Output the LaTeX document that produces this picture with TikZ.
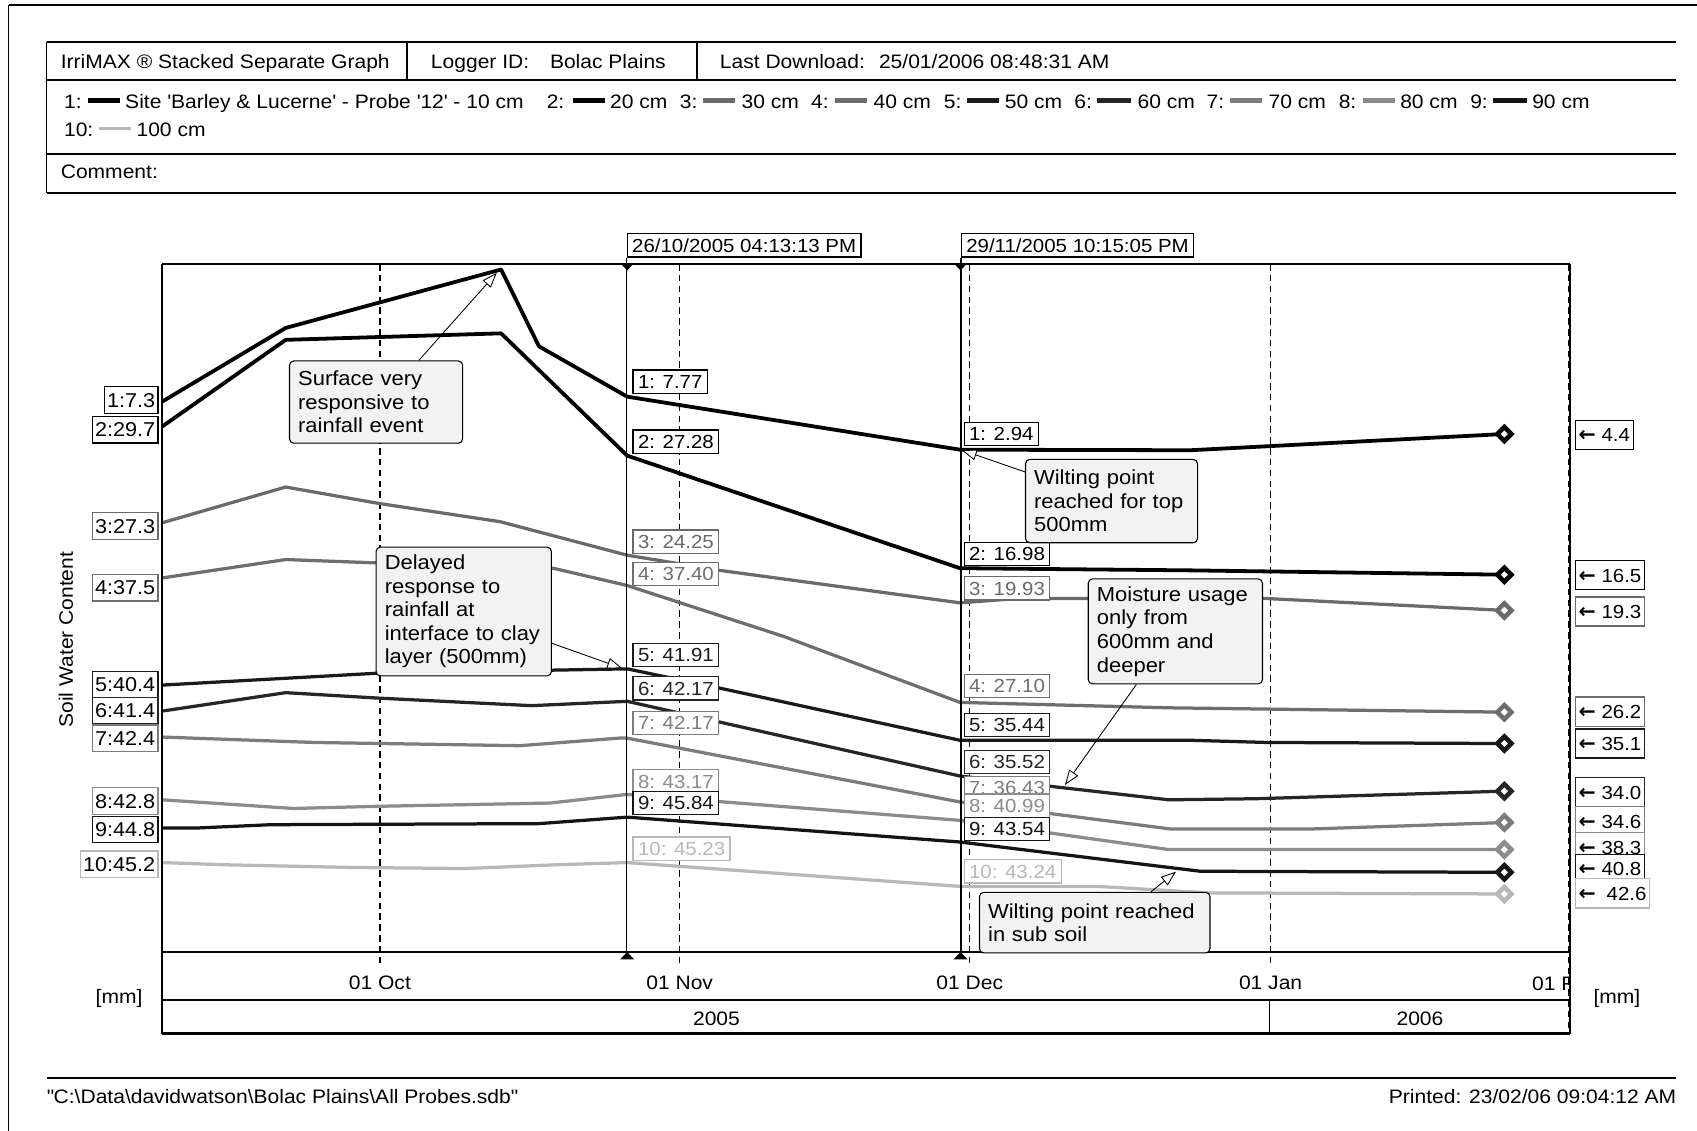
\documentclass[tikz,border=0pt]{standalone}
\usepackage{fontspec}
\setmainfont[FakeStretch=1.08]{Liberation Sans}
\newfontfamily\arrfont{DejaVu Sans}
\usetikzlibrary{arrows.meta}
\definecolor{c1}{HTML}{000000}
\definecolor{c2}{HTML}{000000}
\definecolor{c3}{HTML}{6A6A6A}
\definecolor{c4}{HTML}{6E6E6E}
\definecolor{c5}{HTML}{1A1A1A}
\definecolor{c6}{HTML}{262626}
\definecolor{c7}{HTML}{7C7C7C}
\definecolor{c8}{HTML}{8C8C8C}
\definecolor{c9}{HTML}{141414}
\definecolor{c10}{HTML}{B8B8B8}
\definecolor{callfill}{HTML}{F2F2F2}
\newcommand\fhead{\fontsize{18}{20}\selectfont}
\newcommand\flab{\fontsize{17.5}{19}\selectfont}
\newcommand\fleft{\fontsize{18.5}{20}\selectfont}
\newcommand\fright{\fontsize{17.5}{19}\selectfont}
\newcommand\fcall{\fontsize{18.8}{21.8}\selectfont}
\newcommand\larr{{\arrfont\bfseries\fontsize{19}{19}\selectfont ←}}
\begin{document}
\begin{tikzpicture}[x=1pt,y=-1pt,
  every node/.style={inner sep=0pt},
  txt/.style={anchor=base west, font=\fhead},
  clab/.style={draw, fill=white, line width=1.2pt, inner xsep=4.5pt, inner ysep=0pt,
    minimum height=21.5pt, text height=12.6pt, text depth=0pt, font=\flab, anchor=west},
  llab/.style={draw, fill=white, line width=1.2pt, inner xsep=2.5pt, inner ysep=0pt,
    minimum height=24.5pt, text height=13.3pt, text depth=0pt, font=\fleft, anchor=east},
  rlab/.style={draw, fill=white, line width=1.2pt, inner xsep=3pt, inner ysep=0pt,
    minimum height=27pt, text height=12.6pt, text depth=0pt, font=\fright, anchor=west},
  callout/.style={draw, fill=callfill, rounded corners=4pt, line width=1pt, align=left,
    inner xsep=8pt, inner ysep=0pt, font=\fcall, anchor=north west},
  callarrow/.style={line width=0.8pt, -{Triangle[length=14pt,width=10pt,fill=white]}},
  ser/.style={line width=3pt, line join=round},
  gridline/.style={line width=1.2pt, dash pattern=on 6pt off 4pt},
  frame/.style={line width=1.6pt},
  swatch/.style={line width=4.5pt}
]
\useasboundingbox (0,0) rectangle (1568,1045);

% page border
\draw[line width=1.5pt] (8,4.6) -- (1568,4.6);
\draw[line width=1.5pt] (8,4.6) -- (8,1045);

% header table
\draw[frame] (43,38.5) -- (1549,38.5);
\draw[frame] (43,74) -- (1549,74);
\draw[frame] (43,142.3) -- (1549,142.3);
\draw[frame] (43,178.6) -- (1549,178.6);
\draw[frame] (43,38.5) -- (43,178.6);
\draw[frame] (376,38.5) -- (376,74);
\draw[frame] (644,38.5) -- (644,74);
\node[txt] (h1) at (56,63.5) {IrriMAX ® Stacked Separate Graph};
\node[txt] (h2) at (398,63.5) {Logger ID:};
\node[txt] (h3) at (508,63.5) {Bolac Plains};
\node[txt] (h4) at (665,63.5) {Last Download:};
\node[txt] (h5) at (812,63.5) {25/01/2006 08:48:31 AM};
\node[txt] (h6) at (56,165) {Comment:};

% legend
\node[txt] (g1) at (59,100.5) {1:};
\draw[swatch,c1] (81,93) -- (111,93);
\node[txt] (g1t) at (115.5,100.5) {Site \textquotesingle Barley \& Lucerne\textquotesingle{} - Probe \textquotesingle 12\textquotesingle{} - 10 cm};
\node[txt] (g2) at (505,100.5) {2:};
\draw[swatch,c2] (529,93) -- (558.6,93);
\node[txt] (g2t) at (563.6,100.5) {20 cm};
\node[txt] (g3) at (628,100.5) {3:};
\draw[swatch,c3] (649.4,93) -- (679.1,93);
\node[txt] (g3t) at (685,100.5) {30 cm};
\node[txt] (g4) at (749.3,100.5) {4:};
\draw[swatch,c4] (771.5,93) -- (801.2,93);
\node[txt] (g4t) at (807,100.5) {40 cm};
\node[txt] (g5) at (872,100.5) {5:};
\draw[swatch,c5] (893.6,93) -- (923.3,93);
\node[txt] (g5t) at (928.3,100.5) {50 cm};
\node[txt] (g6) at (992.6,100.5) {6:};
\draw[swatch,c6] (1014,93) -- (1045.4,93);
\node[txt] (g6t) at (1051,100.5) {60 cm};
\node[txt] (g7) at (1114.7,100.5) {7:};
\draw[swatch,c7] (1136.8,93) -- (1166.5,93);
\node[txt] (g7t) at (1172,100.5) {70 cm};
\node[txt] (g8) at (1236.8,100.5) {8:};
\draw[swatch,c8] (1259,93) -- (1288.6,93);
\node[txt] (g8t) at (1293.6,100.5) {80 cm};
\node[txt] (g9) at (1358.3,100.5) {9:};
\draw[swatch,c9] (1379.3,93) -- (1410.7,93);
\node[txt] (g9t) at (1415.6,100.5) {90 cm};
\node[txt] (g10) at (59,126.5) {10:};
\draw[line width=3pt,c10] (91.4,119) -- (121,119);
\node[txt] (g10t) at (126,126.5) {100 cm};

% month grid lines
\foreach \mx in {351,628,896,1174} {
  \draw[gridline] (\mx,244) -- (\mx,892);
}
\draw[gridline] (1449.5,244) -- (1449.5,955);

% series
\draw[ser,c10] (150,797) -- (207,799) -- (324,801.5) -- (430,802.5) -- (514,799) -- (579.5,797) -- (887,819) -- (1014,819) -- (1117,825) -- (1390,826);
\draw[ser,c9] (150,765) -- (183,765) -- (250,762) -- (498,761) -- (579.5,755) -- (887,778) -- (1109,805) -- (1390,806);
\draw[ser,c8] (150,739) -- (271,747) -- (349,745) -- (508,742) -- (579.5,734) -- (887,758) -- (1080,785) -- (1390,785);
\draw[ser,c7] (150,681) -- (290,686) -- (480,689) -- (572,682) -- (579.5,682) -- (887,741) -- (1082,766) -- (1210,766) -- (1390,760);
\draw[ser,c6] (150,657) -- (264,640) -- (349,645) -- (491,652) -- (579.5,648) -- (887,717) -- (1080,739) -- (1160,738) -- (1390,731);
\draw[ser,c5] (150,633) -- (349,622) -- (579.5,618) -- (666,636) -- (887,684) -- (1100,684) -- (1170,686) -- (1390,687);
\draw[ser,c4] (150,534) -- (264,517) -- (345,520) -- (511,525) -- (579.5,541) -- (724,588) -- (887,649) -- (1080,654) -- (1390,658);
\draw[ser,c3] (150,483) -- (264,450) -- (349,465) -- (462,482) -- (579.5,513) -- (665,527) -- (887,557) -- (940,553) -- (1170,553) -- (1390,564);
\draw[ser,c2,line width=3.5pt] (150,394) -- (264,314) -- (463,308) -- (579.5,421) -- (887,525) -- (1100,527) -- (1390,531);
\draw[ser,c1,line width=3.5pt] (150,371) -- (264,303) -- (463,249) -- (498,320) -- (579.5,366.5) -- (887,415.5) -- (1100,416) -- (1390,401);

% end markers
\foreach \yy/\cc in {401/c1,531/c2,564/c3,658/c4,687/c5,731/c6,760/c7,785/c8,806/c9,826/c10} {
  \draw[\cc, line width=4.2pt, fill=white, line join=miter] (1390,\yy-6.5) -- (1396.5,\yy) -- (1390,\yy+6.5) -- (1383.5,\yy) -- cycle;
}

% plot frame and axis
\draw[frame] (150,244) -- (1451,244);
\draw[frame] (150,244) -- (150,955);
\draw[line width=2pt] (1451,244) -- (1451,955);
\draw[line width=1.8pt] (150,880) -- (1451,880);
\draw[frame] (150,924) -- (1451,924);
\draw[line width=2.2pt] (150,955) -- (1451,955);
\draw[frame] (1173,924) -- (1173,955);

% cursors
\node[clab, draw=black] (d1) at (579,226.7) {26/10/2005 04:13:13 PM};
\node[clab, draw=black] (d2) at (887.7,226.7) {29/11/2005 10:15:05 PM};
\coordinate (cb1) at (579.5,880);
\coordinate (cb2) at (887.7,880);
\draw[line width=1.5pt] (d1.south west) -- (d1.south west |- cb1);
\draw[line width=1.5pt] (d2.south west) -- (d2.south west |- cb2);
\fill (574,244) -- (585,244) -- (579.5,250) -- cycle;
\fill (882,244) -- (893,244) -- (887.5,250) -- cycle;
\fill (573,886.5) -- (586,886.5) -- (579.5,879.5) -- cycle;
\fill (881,886.5) -- (894,886.5) -- (887.5,879.5) -- cycle;

% axis labels
\node[font=\fhead] (m1) at (351,908.5) {01 Oct};
\node[font=\fhead] (m2) at (628,908.5) {01 Nov};
\node[font=\fhead] (m3) at (896,908.5) {01 Dec};
\node[font=\fhead] (m4) at (1174,908.5) {01 Jan};
\begin{scope}
  \clip (1380,890) rectangle (1450,925);
  \node[font=\fhead] (m5) at (1446,908.5) {01 Feb};
\end{scope}
\node[font=\fhead] (y1) at (662,941) {2005};
\node[font=\fhead] (y2) at (1312,941) {2006};
\node[font=\fhead] (u1) at (110,923) {[mm]};
\node[font=\fhead] (u2) at (1494,923) {[mm]};
\node[font=\fhead, rotate=90] (ax) at (61,591) {Soil Water Content};

% left labels
\node[llab, draw=c1] (l1) at (146.5,369.5) {1:7.3};
\node[llab, draw=c2] (l2) at (146.5,397) {2:29.7};
\node[llab, draw=c3] (l3) at (146.5,486) {3:27.3};
\node[llab, draw=c4] (l4) at (146.5,543) {4:37.5};
\node[llab, draw=c5] (l5) at (146.5,632.5) {5:40.4};
\node[llab, draw=c6] (l6) at (146.5,656.5) {6:41.4};
\node[llab, draw=c7] (l7) at (146.5,682) {7:42.4};
\node[llab, draw=c8] (l8) at (146.5,740) {8:42.8};
\node[llab, draw=c9] (l9) at (146.5,766.5) {9:44.8};
\node[llab, draw=c10] (l10) at (146.5,798.5) {10:45.2};

% cursor 1 labels
\node[clab, draw=c1, text=c1] (a1) at (584.4,352.6) {1: 7.77};
\node[clab, draw=c2, text=c2] (a2) at (584.4,408) {2: 27.28};
\node[clab, draw=c3, text=c3] (a3) at (584.4,500.5) {3: 24.25};
\node[clab, draw=c4, text=c4] (a4) at (584.4,530.5) {4: 37.40};
\node[clab, draw=c5, text=c5] (a5) at (584.4,605) {5: 41.91};
\node[clab, draw=c6, text=c6] (a6) at (584.4,636) {6: 42.17};
\node[clab, draw=c7, text=c7] (a7) at (584.4,668) {7: 42.17};
\node[clab, draw=c8, text=c8] (a8) at (584.4,722) {8: 43.17};
\node[clab, draw=c9, text=c9] (a9) at (584.4,742) {9: 45.84};
\node[clab, draw=c10, text=c10] (a10) at (584.4,784) {10: 45.23};

% cursor 2 labels
\node[clab, draw=c1, text=c1] (b1) at (890.3,401) {1: 2.94};
\node[clab, draw=c2, text=c2] (b2) at (890.3,512) {2: 16.98};
\node[clab, draw=c3, text=c3] (b3) at (890.3,543.6) {3: 19.93};
\node[clab, draw=c4, text=c4] (b4) at (890.3,634) {4: 27.10};
\node[clab, draw=c5, text=c5] (b5) at (890.3,670) {5: 35.44};
\node[clab, draw=c6, text=c6] (b6) at (890.3,704) {6: 35.52};
\node[clab, draw=c7, text=c7] (b7) at (890.3,728) {7: 36.43};
\node[clab, draw=c8, text=c8] (b8) at (890.3,744.5) {8: 40.99};
\node[clab, draw=c9, text=c9] (b9) at (890.3,766) {9: 43.54};
\node[clab, draw=c10, text=c10] (b10) at (890.3,805) {10: 43.24};

% right labels
\node[rlab, draw=c1] (r1) at (1455,402) {\larr\ 4.4};
\node[rlab, draw=c2] (r2) at (1455,531.5) {\larr\ 16.5};
\node[rlab, draw=c3] (r3) at (1455,565) {\larr\ 19.3};
\node[rlab, draw=c4] (r4) at (1455,657.6) {\larr\ 26.2};
\node[rlab, draw=c5] (r5) at (1455,687) {\larr\ 35.1};
\node[rlab, draw=c6] (r6) at (1455,732) {\larr\ 34.0};
\node[rlab, draw=c7] (r7) at (1455,759) {\larr\ 34.6};
\node[rlab, draw=c8] (r8) at (1455,783) {\larr\ 38.3};
\node[rlab, draw=c9] (r9) at (1455,803) {\larr\ 40.8};
\node[rlab, draw=c10] (r10) at (1455,825.5) {\larr\hspace{10pt}42.6};

% callouts
\node[callout, text width=144pt, minimum height=76pt] (sv) at (267,333)
  {Surface very\\responsive to\\rainfall event};
\node[callout, text width=146pt, minimum height=119pt] (dl) at (347,505)
  {Delayed\\response to\\rainfall at\\interface to clay\\layer (500mm)};
\node[callout, text width=143pt, minimum height=77pt] (wt) at (947,424)
  {Wilting point\\reached for top\\500mm};
\node[callout, text width=145pt, minimum height=97pt] (mu) at (1005,534.4)
  {Moisture usage\\only from\\600mm and\\deeper};
\node[callout, text width=197pt, minimum height=56pt] (ss) at (904.5,824)
  {Wilting point reached\\in sub soil};

\coordinate (t1) at (459,252);
\coordinate (t2) at (575,617.5);
\coordinate (t3) at (888.5,415.8);
\coordinate (t4) at (984,725.3);
\coordinate (t5) at (1086.6,805.4);
\draw[callarrow] ([xshift=120pt]sv.north west) -- (t1);
\draw[callarrow] ([yshift=-89.4pt]dl.north east) -- (t2);
\draw[callarrow] ([yshift=-12pt]wt.north west) -- (t3);
\draw[callarrow] ([xshift=45pt]mu.south west) -- (t4);
\draw[callarrow] ([xshift=159pt]ss.north west) -- (t5);

% footer
\draw[line width=2.2pt] (43,996) -- (1549,996);
\node[txt] (f1) at (43,1019.5) {\textquotedbl C:\textbackslash Data\textbackslash davidwatson\textbackslash Bolac Plains\textbackslash All Probes.sdb\textquotedbl};
\node[txt, anchor=base east] (f2) at (1549,1019.5) {Printed: 23/02/06 09:04:12 AM};
\end{tikzpicture}
\end{document}
